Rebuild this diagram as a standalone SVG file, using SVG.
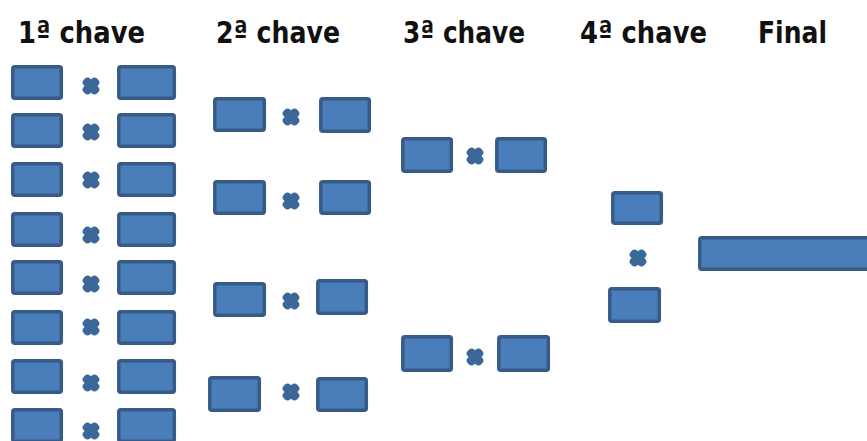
<svg xmlns="http://www.w3.org/2000/svg" xmlns:xlink="http://www.w3.org/1999/xlink" width="867" height="441" viewBox="0 0 867 441">
<style>
.t{font-family:"DejaVu Sans","Liberation Sans",sans-serif;font-weight:bold;font-size:31px;fill:#111}
.b{fill:#4a7ebb;stroke:#375a86;stroke-width:3.5}
.x{fill:#3b6899}
</style>
<defs>
<g id="xm" class="x">
<rect x="-9.5" y="-4.6" width="19" height="9.2" rx="4" transform="rotate(45)"/>
<rect x="-9.5" y="-4.6" width="19" height="9.2" rx="4" transform="rotate(-45)"/>
</g>
</defs>
<rect width="867" height="441" fill="#fff"/>
<g id="titles">
<text class="t" x="18" y="43" textLength="127" lengthAdjust="spacingAndGlyphs">1ª chave</text>
<text class="t" x="216" y="43" textLength="124" lengthAdjust="spacingAndGlyphs">2ª chave</text>
<text class="t" x="403" y="43" textLength="122" lengthAdjust="spacingAndGlyphs">3ª chave</text>
<text class="t" x="580" y="43" textLength="127" lengthAdjust="spacingAndGlyphs">4ª chave</text>
<text class="t" x="758" y="43" textLength="69" lengthAdjust="spacingAndGlyphs">Final</text>
</g>
<g id="r1m1"><rect class="b" x="12.8" y="66.8" width="48.5" height="31.5" rx="2"/><use xlink:href="#xm" x="91" y="86"/><rect class="b" x="118.8" y="66.8" width="55.5" height="31.5" rx="2"/></g>
<g id="r1m2"><rect class="b" x="12.8" y="114.8" width="48.5" height="31.5" rx="2"/><use xlink:href="#xm" x="91" y="132"/><rect class="b" x="118.8" y="114.8" width="55.5" height="31.5" rx="2"/></g>
<g id="r1m3"><rect class="b" x="12.8" y="163.8" width="48.5" height="31.5" rx="2"/><use xlink:href="#xm" x="91" y="180"/><rect class="b" x="118.8" y="163.8" width="55.5" height="31.5" rx="2"/></g>
<g id="r1m4"><rect class="b" x="12.8" y="213.8" width="48.5" height="31.5" rx="2"/><use xlink:href="#xm" x="91" y="235"/><rect class="b" x="118.8" y="213.8" width="55.5" height="31.5" rx="2"/></g>
<g id="r1m5"><rect class="b" x="12.8" y="261.8" width="48.5" height="31.5" rx="2"/><use xlink:href="#xm" x="91" y="284"/><rect class="b" x="118.8" y="261.8" width="55.5" height="31.5" rx="2"/></g>
<g id="r1m6"><rect class="b" x="12.8" y="311.8" width="48.5" height="31.5" rx="2"/><use xlink:href="#xm" x="91" y="327"/><rect class="b" x="118.8" y="311.8" width="55.5" height="31.5" rx="2"/></g>
<g id="r1m7"><rect class="b" x="12.8" y="360.8" width="48.5" height="31.5" rx="2"/><use xlink:href="#xm" x="91" y="383"/><rect class="b" x="118.8" y="360.8" width="55.5" height="31.5" rx="2"/></g>
<g id="r1m8"><rect class="b" x="12.8" y="409.8" width="48.5" height="31.5" rx="2"/><use xlink:href="#xm" x="91" y="431"/><rect class="b" x="118.8" y="409.8" width="55.5" height="31.5" rx="2"/></g>
<g id="r2m1"><rect class="b" x="214.8" y="98.8" width="49.5" height="31.5" rx="2"/><use xlink:href="#xm" x="291" y="117"/><rect class="b" x="320.8" y="98.8" width="48.5" height="32.5" rx="2"/></g>
<g id="r2m2"><rect class="b" x="214.8" y="181.8" width="49.5" height="31.5" rx="2"/><use xlink:href="#xm" x="291" y="201"/><rect class="b" x="320.8" y="181.8" width="48.5" height="31.5" rx="2"/></g>
<g id="r2m3"><rect class="b" x="214.8" y="283.8" width="49.5" height="31.5" rx="2"/><use xlink:href="#xm" x="291" y="301"/><rect class="b" x="317.8" y="280.8" width="48.5" height="32.5" rx="2"/></g>
<g id="r2m4"><rect class="b" x="209.8" y="377.8" width="49.5" height="32.5" rx="2"/><use xlink:href="#xm" x="291" y="392"/><rect class="b" x="317.8" y="378.8" width="48.5" height="31.5" rx="2"/></g>
<g id="r3m1"><rect class="b" x="402.8" y="138.8" width="48.5" height="32.5" rx="2"/><use xlink:href="#xm" x="475" y="156"/><rect class="b" x="496.8" y="138.8" width="48.5" height="32.5" rx="2"/></g>
<g id="r3m2"><rect class="b" x="402.8" y="336.8" width="48.5" height="33.5" rx="2"/><use xlink:href="#xm" x="475" y="357"/><rect class="b" x="498.8" y="336.8" width="49.5" height="33.5" rx="2"/></g>
<g id="r4m1"><rect class="b" x="612.8" y="192.8" width="48.5" height="30.5" rx="2"/><use xlink:href="#xm" x="638" y="258"/><rect class="b" x="609.8" y="288.8" width="49.5" height="32.5" rx="2"/></g>
<g id="final"><rect class="b" x="699.8" y="237.8" width="175" height="31.5" rx="2"/></g>
</svg>
